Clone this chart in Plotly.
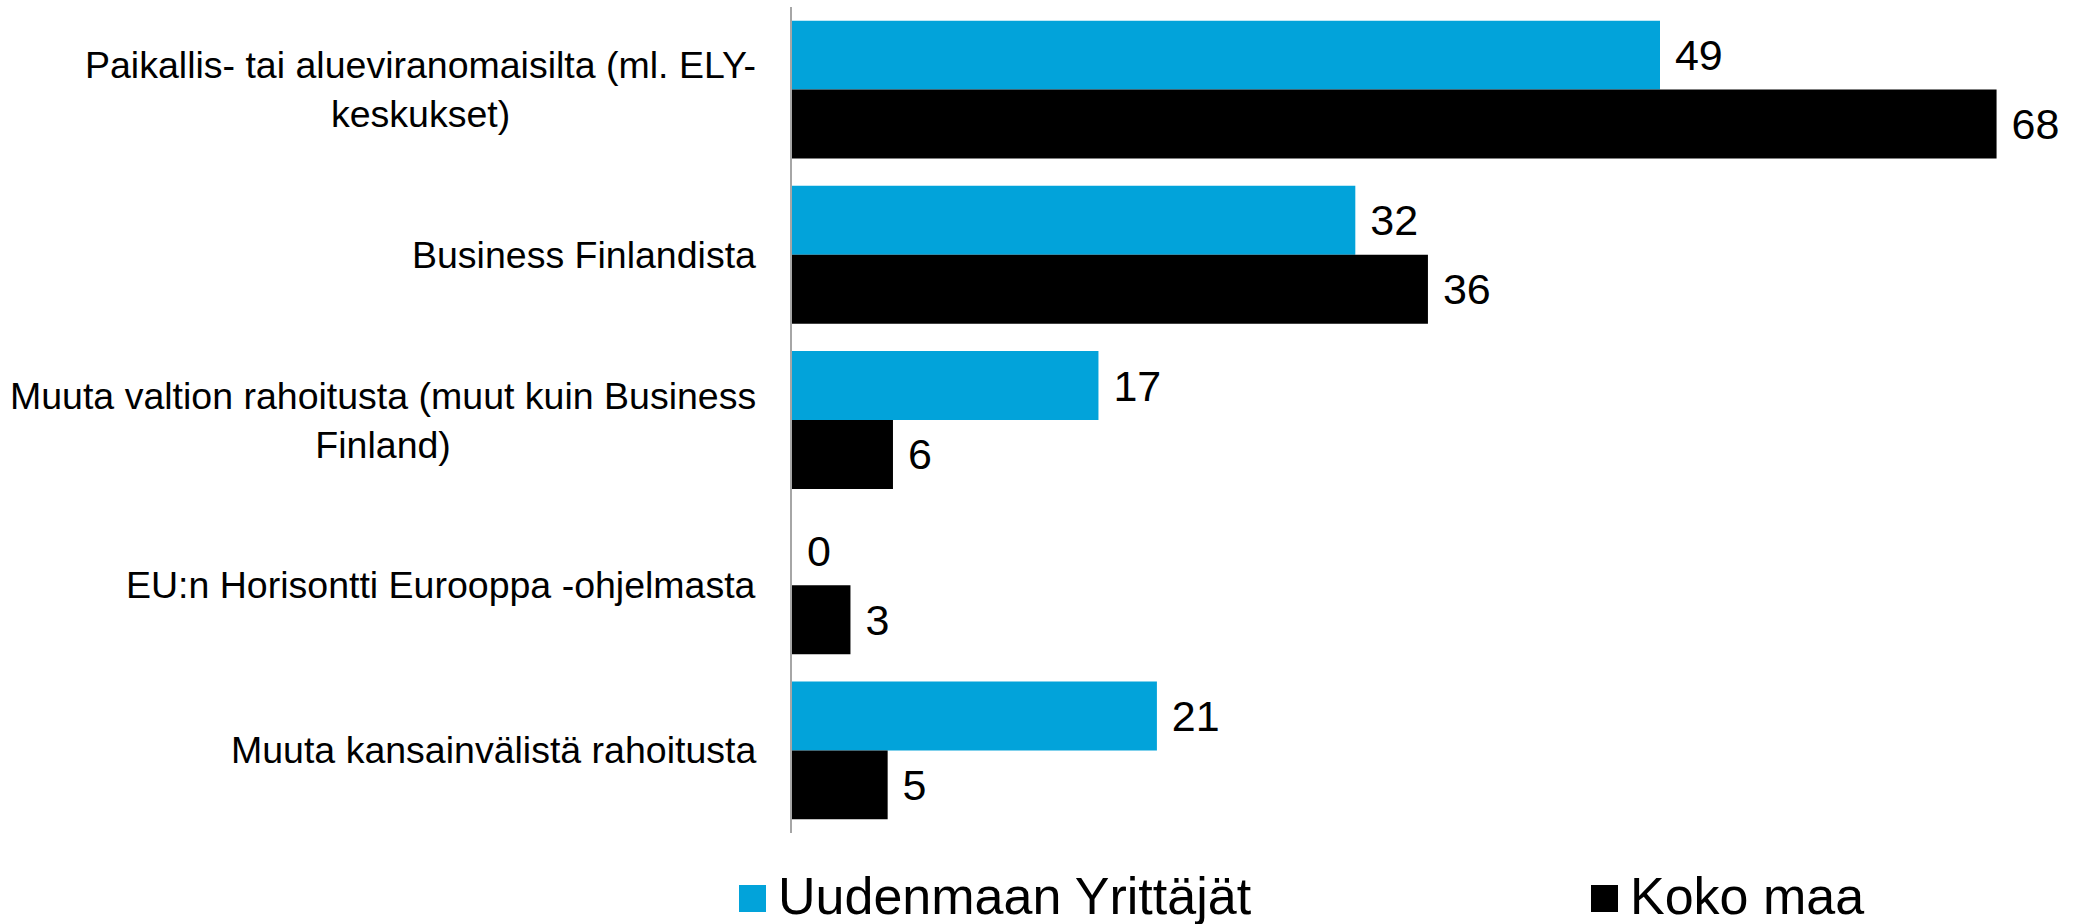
import pandas as pd
import plotly.graph_objects as go

# Data
df = pd.DataFrame(
    {
        "kategoria": [
            "Paikallis- tai alueviranomaisilta (ml. ELY-<br>keskukset)",
            "Business Finlandista",
            "Muuta valtion rahoitusta (muut kuin Business<br>Finland)",
            "EU:n Horisontti Eurooppa -ohjelmasta",
            "Muuta kansainvälistä rahoitusta",
        ],
        "Uudenmaan Yrittäjät": [49.0, 31.8, 17.3, 0.0, 20.6],
        "Koko maa": [68.0, 35.9, 5.7, 3.3, 5.4],
    }
)

colors = {"Uudenmaan Yrittäjät": "#02A3DA", "Koko maa": "#000000"}
font_family = "Liberation Sans, Arial, sans-serif"

fig = go.Figure()
for name in ["Uudenmaan Yrittäjät", "Koko maa"]:
    fig.add_trace(
        go.Bar(
            y=df["kategoria"],
            x=df[name],
            orientation="h",
            name=name,
            marker_color=colors[name],
            marker_line_width=0,
            texttemplate="\u00a0%{x:.0f}",
            textposition="outside",
            textfont=dict(size=43, color="black", family=font_family),
            cliponaxis=False,
            showlegend=False,
        )
    )

# Category labels, centred lines like in the original
for cat in df["kategoria"]:
    fig.add_annotation(
        x=0,
        xref="paper",
        y=cat,
        yref="y",
        text=cat,
        xanchor="right",
        xshift=-34,
        align="center",
        showarrow=False,
        font=dict(size=37.5, color="black", family=font_family),
    )

# Legend at the bottom (big square markers)
legend_items = [("Uudenmaan Yrittäjät", -53), ("Koko maa", 799)]
for name, px_left in legend_items:
    fig.add_shape(
        type="rect",
        xref="paper",
        yref="paper",
        xsizemode="pixel",
        ysizemode="pixel",
        xanchor=0,
        yanchor=0,
        x0=px_left,
        x1=px_left + 27,
        y0=-79,
        y1=-52,
        fillcolor=colors[name],
        line_width=0,
    )
    fig.add_annotation(
        x=0,
        xref="paper",
        y=0,
        yref="paper",
        text=name,
        xanchor="left",
        yanchor="middle",
        xshift=px_left + 37,
        yshift=-63,
        showarrow=False,
        font=dict(size=52, color="black", family=font_family),
    )

fig.update_layout(
    width=2073,
    height=924,
    barmode="group",
    bargap=0.165,
    bargroupgap=0,
    plot_bgcolor="white",
    paper_bgcolor="white",
    margin=dict(l=792, r=41, t=7, b=91),
    xaxis=dict(range=[0, 70], visible=False),
    yaxis=dict(
        autorange="reversed",
        showticklabels=False,
        showgrid=False,
        zeroline=False,
        showline=True,
        linecolor="#a6a6a6",
        linewidth=2,
    ),
)

# page body has a default 8px margin, drop it so the figure fills the window
fig.write_html(
    "out.html",
    config={"displayModeBar": False},
    post_script="document.body.style.margin='0px';",
)
